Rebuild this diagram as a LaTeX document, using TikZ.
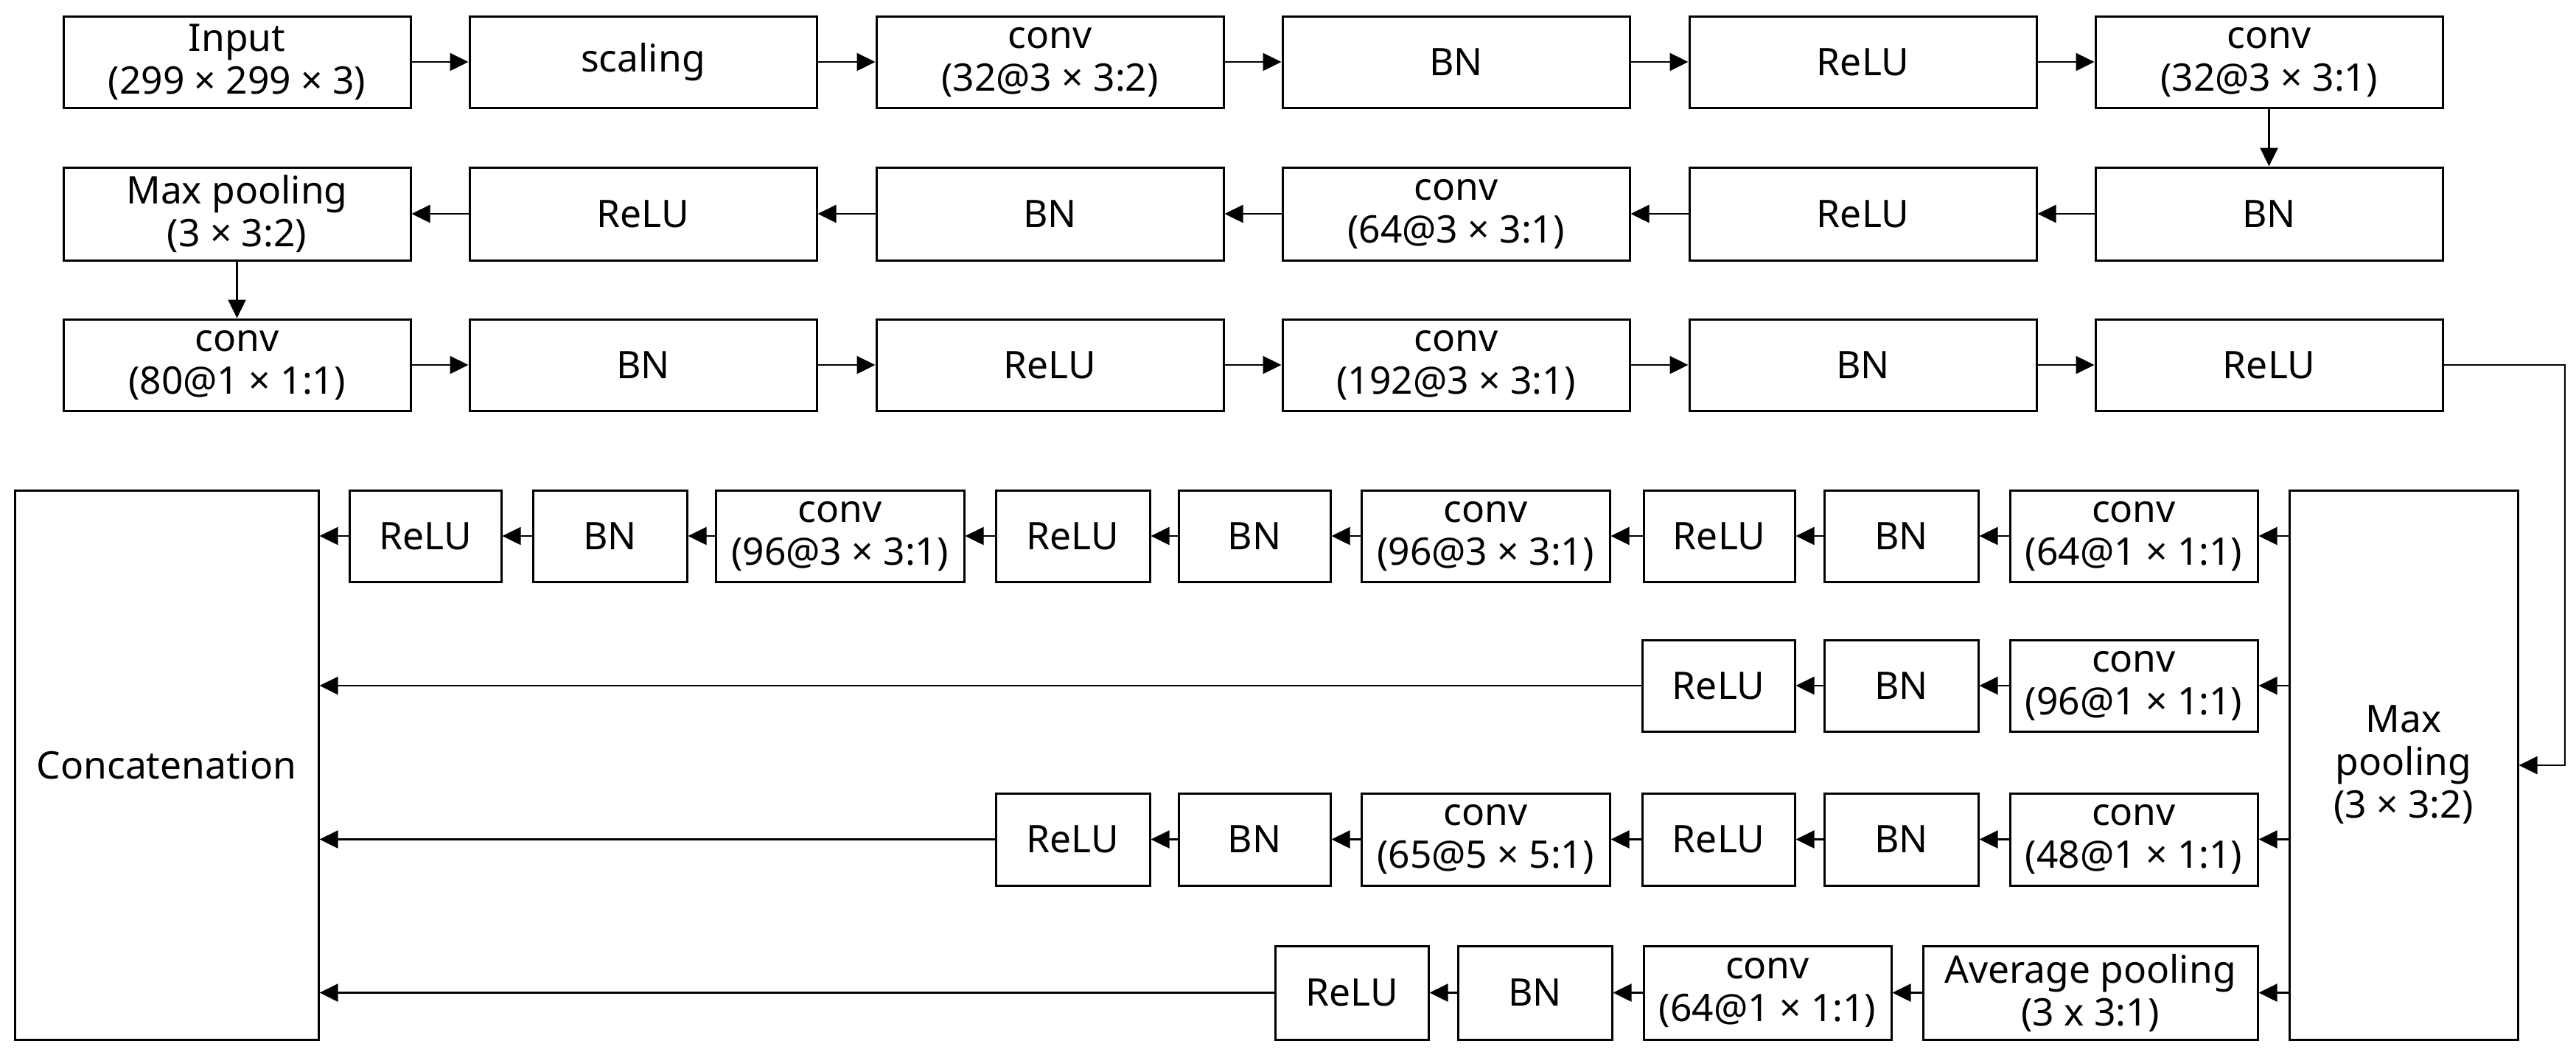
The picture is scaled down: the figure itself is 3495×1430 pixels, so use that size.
\documentclass[tikz,border=0pt]{standalone}
\usepackage{fontspec}
\setmainfont{Noto Sans}
\usetikzlibrary{arrows.meta}
\newcommand\mkbox[6]{\node[box,minimum width={(#3-#2)*0.2pt},minimum height={(#5-#4)*0.2pt}] (#1) at ({(#2+#3)/2},{(#4+#5)/2}) {#6};}
\begin{document}
\begin{tikzpicture}[x=0.2pt,y=-0.2pt,
  box/.style={draw=black,line width=0.6pt,inner sep=0pt,align=center,font=\fontsize{10.3}{11.6}\selectfont},
  arr/.style={line width=0.5pt,-{Triangle[length=5pt,width=4.8pt]}}]
\useasboundingbox (0,0) rectangle (3495,1430);
% row 1
\mkbox{a1}{86}{557}{22}{146}{Input\\(299 × 299 × 3)}
\mkbox{a2}{637}{1108}{22}{146}{scaling}
\mkbox{a3}{1189}{1660}{22}{146}{conv\\(32@3 × 3:2)}
\mkbox{a4}{1740}{2211}{22}{146}{BN}
\mkbox{a5}{2292}{2763}{22}{146}{ReLU}
\mkbox{a6}{2843}{3314}{22}{146}{conv\\(32@3 × 3:1)}
% row 2
\mkbox{b1}{86}{557}{227}{353}{Max pooling\\(3 × 3:2)}
\mkbox{b2}{637}{1108}{227}{353}{ReLU}
\mkbox{b3}{1189}{1660}{227}{353}{BN}
\mkbox{b4}{1740}{2211}{227}{353}{conv\\(64@3 × 3:1)}
\mkbox{b5}{2292}{2763}{227}{353}{ReLU}
\mkbox{b6}{2843}{3314}{227}{353}{BN}
% row 3
\mkbox{c1}{86}{557}{433}{557}{conv\\(80@1 × 1:1)}
\mkbox{c2}{637}{1108}{433}{557}{BN}
\mkbox{c3}{1189}{1660}{433}{557}{ReLU}
\mkbox{c4}{1740}{2211}{433}{557}{conv\\(192@3 × 3:1)}
\mkbox{c5}{2292}{2763}{433}{557}{BN}
\mkbox{c6}{2843}{3314}{433}{557}{ReLU}
% big boxes
\mkbox{cat}{20}{432}{665}{1410}{Concatenation}
\mkbox{mp}{3106}{3416}{665}{1410}{Max\\pooling\\(3 × 3:2)}
% branch a
\mkbox{ra1}{2727}{3063}{665}{789}{conv\\(64@1 × 1:1)}
\mkbox{ra2}{2475}{2684}{665}{789}{BN}
\mkbox{ra3}{2230}{2435}{665}{789}{ReLU}
\mkbox{ra4}{1847}{2184}{665}{789}{conv\\(96@3 × 3:1)}
\mkbox{ra5}{1599}{1805}{665}{789}{BN}
\mkbox{ra6}{1351}{1560}{665}{789}{ReLU}
\mkbox{ra7}{971}{1308}{665}{789}{conv\\(96@3 × 3:1)}
\mkbox{ra8}{723}{932}{665}{789}{BN}
\mkbox{ra9}{474}{680}{665}{789}{ReLU}
% branch b
\mkbox{rb1}{2727}{3063}{868}{992}{conv\\(96@1 × 1:1)}
\mkbox{rb2}{2475}{2684}{868}{992}{BN}
\mkbox{rb3}{2228}{2435}{868}{992}{ReLU}
% branch c
\mkbox{rc1}{2727}{3063}{1076}{1201}{conv\\(48@1 × 1:1)}
\mkbox{rc2}{2475}{2684}{1076}{1201}{BN}
\mkbox{rc3}{2228}{2435}{1076}{1201}{ReLU}
\mkbox{rc4}{1847}{2184}{1076}{1201}{conv\\(65@5 × 5:1)}
\mkbox{rc5}{1599}{1805}{1076}{1201}{BN}
\mkbox{rc6}{1351}{1560}{1076}{1201}{ReLU}
% branch d
\mkbox{rd1}{2609}{3063}{1283}{1410}{Average pooling\\(3 x 3:1)}
\mkbox{rd2}{2230}{2566}{1283}{1410}{conv\\(64@1 × 1:1)}
\mkbox{rd3}{1978}{2187}{1283}{1410}{BN}
\mkbox{rd4}{1730}{1938}{1283}{1410}{ReLU}
% arrows top
\draw[arr] (a1) -- (a2);
\draw[arr] (a2) -- (a3);
\draw[arr] (a3) -- (a4);
\draw[arr] (a4) -- (a5);
\draw[arr] (a5) -- (a6);
\draw[arr] (a6) -- (b6);
\draw[arr] (b6) -- (b5);
\draw[arr] (b5) -- (b4);
\draw[arr] (b4) -- (b3);
\draw[arr] (b3) -- (b2);
\draw[arr] (b2) -- (b1);
\draw[arr] (b1) -- (c1);
\draw[arr] (c1) -- (c2);
\draw[arr] (c2) -- (c3);
\draw[arr] (c3) -- (c4);
\draw[arr] (c4) -- (c5);
\draw[arr] (c5) -- (c6);
\coordinate (t1) at (3480,495);
\coordinate (t2) at (3480,1038);
\draw[arr] (c6.east) -- (t1) -- (t2) -- (mp.east |- t2);
% branch arrows
\draw[arr] (mp.west |- ra1) -- (ra1.east);
\draw[arr] (ra1) -- (ra2);
\draw[arr] (ra2) -- (ra3);
\draw[arr] (ra3) -- (ra4);
\draw[arr] (ra4) -- (ra5);
\draw[arr] (ra5) -- (ra6);
\draw[arr] (ra6) -- (ra7);
\draw[arr] (ra7) -- (ra8);
\draw[arr] (ra8) -- (ra9);
\draw[arr] (ra9.west) -- (cat.east |- ra9);
\draw[arr] (mp.west |- rb1) -- (rb1.east);
\draw[arr] (rb1) -- (rb2);
\draw[arr] (rb2) -- (rb3);
\draw[arr] (rb3.west) -- (cat.east |- rb3);
\draw[arr] (mp.west |- rc1) -- (rc1.east);
\draw[arr] (rc1) -- (rc2);
\draw[arr] (rc2) -- (rc3);
\draw[arr] (rc3) -- (rc4);
\draw[arr] (rc4) -- (rc5);
\draw[arr] (rc5) -- (rc6);
\draw[arr] (rc6.west) -- (cat.east |- rc6);
\draw[arr] (mp.west |- rd1) -- (rd1.east);
\draw[arr] (rd1) -- (rd2);
\draw[arr] (rd2) -- (rd3);
\draw[arr] (rd3) -- (rd4);
\draw[arr] (rd4.west) -- (cat.east |- rd4);
\end{tikzpicture}
\end{document}
